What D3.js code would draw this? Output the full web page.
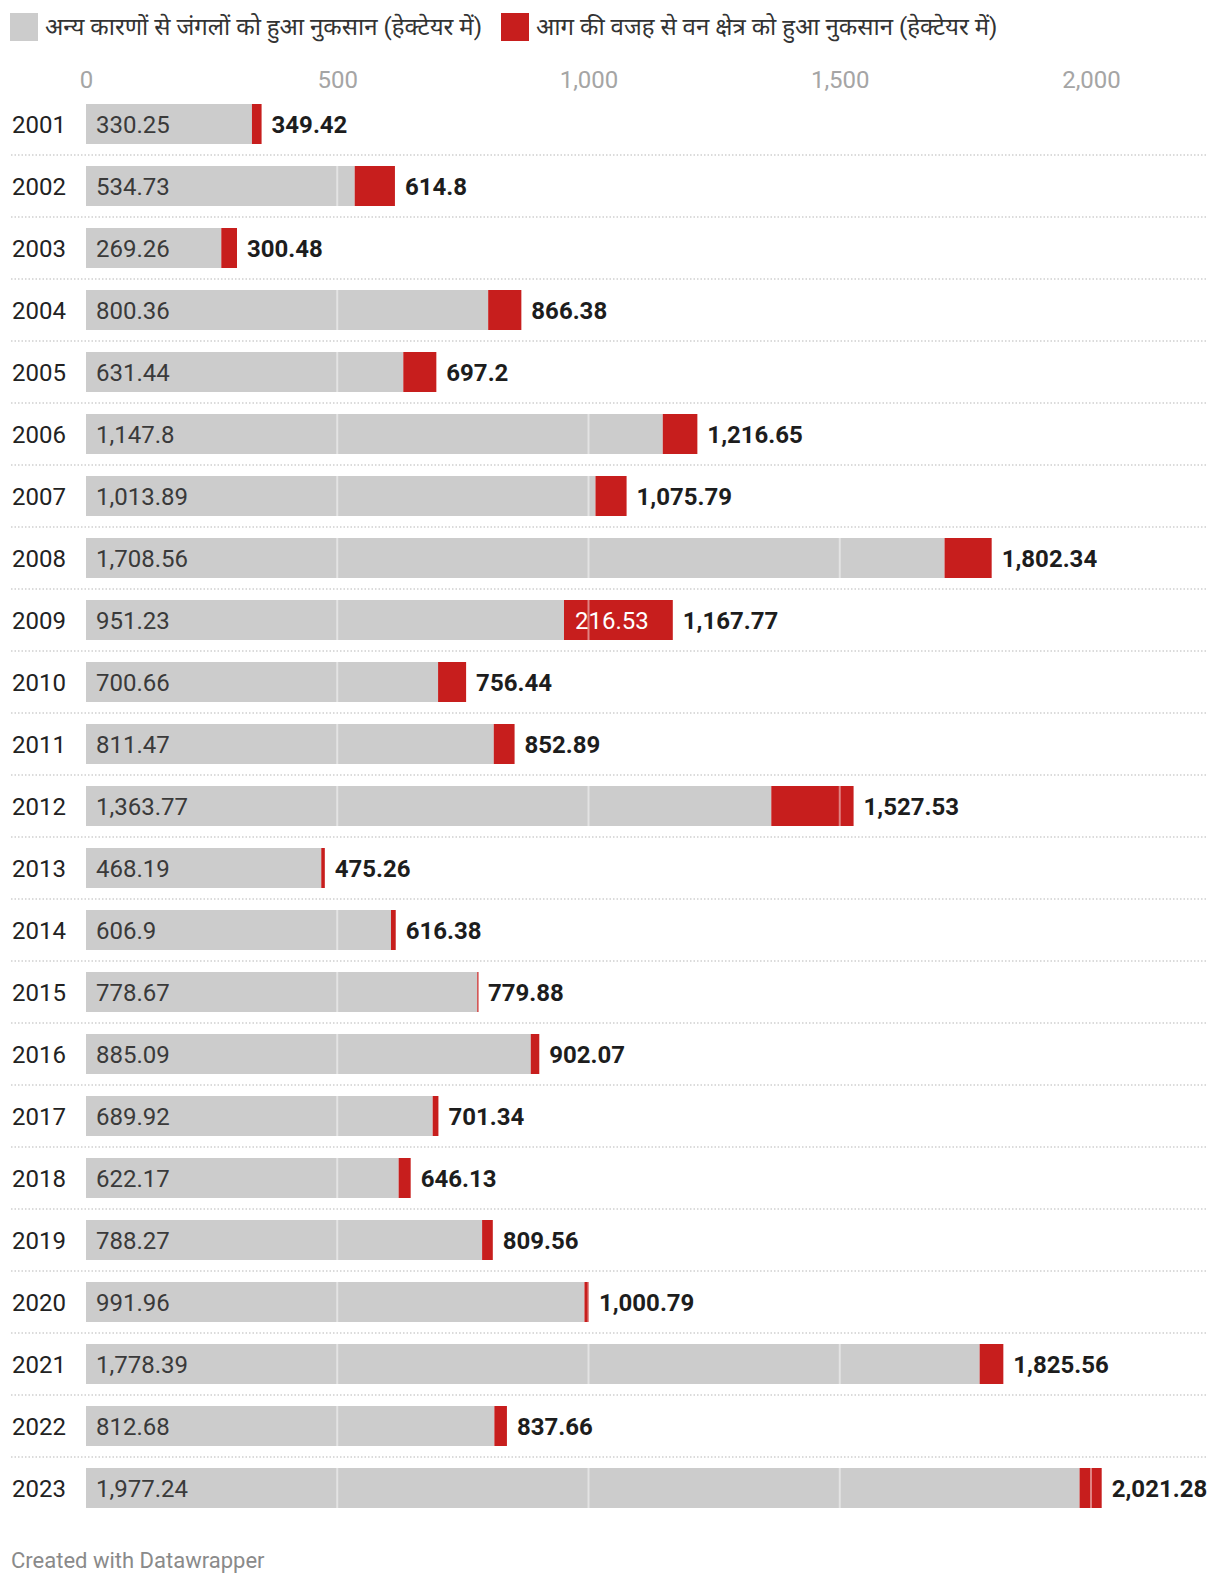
<!DOCTYPE html>
<html>
<head>
<meta charset="utf-8">
<script src="https://cdn.jsdelivr.net/npm/d3@7"></script>
<style>
  html, body { margin: 0; padding: 0; background: #fff; }
  svg { display: block; font-family: Roboto, "Noto Sans", sans-serif; }
</style>
</head>
<body>
<svg id="chart" width="1220" height="1586"></svg>
<script>
const years = ["2001","2002","2003","2004","2005","2006","2007","2008","2009","2010","2011","2012","2013","2014","2015","2016","2017","2018","2019","2020","2021","2022","2023"];
const otherLoss = [330.25,534.73,269.26,800.36,631.44,1147.8,1013.89,1708.56,951.23,700.66,811.47,1363.77,468.19,606.9,778.67,885.09,689.92,622.17,788.27,991.96,1778.39,812.68,1977.24];
const fireLoss = [19.17,80.07,31.22,66.02,65.76,68.85,61.9,93.78,216.53,55.78,41.42,163.76,7.07,9.48,1.21,16.98,11.42,23.96,21.29,8.83,47.17,24.98,44.04];
const totalLoss = [349.42,614.8,300.48,866.38,697.2,1216.65,1075.79,1802.34,1167.77,756.44,852.89,1527.53,475.26,616.38,779.88,902.07,701.34,646.13,809.56,1000.79,1825.56,837.66,2021.28];
const tickValues = [0,500,1000,1500,2000];
const seriesNames = ["अन्य कारणों से जंगलों को हुआ नुकसान (हेक्टेयर में)", "आग की वजह से वन क्षेत्र को हुआ नुकसान (हेक्टेयर में)"];
const seriesColors = ["#cccccc", "#c71e1d"];

const svg = d3.select("#chart");
const fmt = v => d3.format(",")(v);
const FS = 24;

const x = d3.scaleLinear().domain([0, 2000]).range([86, 1091]);
const y = d3.scaleBand().domain(years).range([93, 93 + 62 * years.length]).paddingInner(22/62).paddingOuter(11/62);

// Legend
const legend = svg.append("g");
const legX = [10, 501];
seriesNames.forEach((name, i) => {
  legend.append("rect").attr("x", legX[i]).attr("y", 13).attr("width", 28).attr("height", 28).attr("fill", seriesColors[i]);
  legend.append("text").attr("x", legX[i] + 35).attr("y", 35).attr("font-size", 24).attr("fill", "#333").text(name);
});

// Axis tick labels
const axis = d3.axisTop(x).tickValues(tickValues).tickFormat(fmt).tickSize(0).tickPadding(0);
const axG = svg.append("g").attr("transform", "translate(0,88)").call(axis);
axG.select(".domain").remove();
axG.selectAll("text").attr("font-size", FS).attr("fill", "#a5a5a5").attr("font-family", "Roboto");

// Dotted row dividers
svg.append("g").selectAll("line").data(years.slice(1)).join("line")
  .attr("x1", 11).attr("x2", 1208)
  .attr("y1", d => y(d) - 11).attr("y2", d => y(d) - 11)
  .attr("stroke", "#cfcfcf").attr("stroke-width", 1.5).attr("stroke-dasharray", "1.5,2");

const rows = svg.append("g").selectAll("g").data(years).join("g");
const base = d => y(d) + y.bandwidth()/2 + 8.5;

// Year labels
rows.append("text").attr("x", 12).attr("y", base)
  .attr("font-size", FS).attr("fill", "#222").text(d => d);

// Grey bars
rows.append("rect").attr("x", x(0)).attr("y", d => y(d))
  .attr("width", (d, i) => x(otherLoss[i]) - x(0)).attr("height", y.bandwidth())
  .attr("fill", seriesColors[0]);

// Red bars
rows.append("rect").attr("x", (d, i) => x(otherLoss[i])).attr("y", d => y(d))
  .attr("width", (d, i) => Math.max(1.2, x(otherLoss[i] + fireLoss[i]) - x(otherLoss[i]))).attr("height", y.bandwidth())
  .attr("fill", seriesColors[1]);

// Grid lines over bars
rows.each(function(d, i) {
  const g = d3.select(this);
  tickValues.filter(t => t > 0 && t < otherLoss[i] + fireLoss[i]).forEach(t => {
    g.append("rect").attr("x", x(t) - 1).attr("y", y(d)).attr("width", 2).attr("height", y.bandwidth())
      .attr("fill", "#fff").attr("opacity", 0.45);
  });
});

// Labels inside grey
rows.append("text").attr("x", x(0) + 10).attr("y", base)
  .attr("font-size", FS).attr("fill", "#3a3a3a").text((d, i) => fmt(otherLoss[i]));

// Labels inside red when wide enough
rows.filter((d, i) => x(otherLoss[i] + fireLoss[i]) - x(otherLoss[i]) > 90)
  .append("text").attr("x", d => x(otherLoss[years.indexOf(d)]) + 11).attr("y", base)
  .attr("font-size", FS).attr("fill", "#fff").text(d => fmt(fireLoss[years.indexOf(d)]));

// Totals
rows.append("text").attr("x", (d, i) => x(otherLoss[i] + fireLoss[i]) + 10).attr("y", base)
  .attr("font-size", FS).attr("font-weight", "bold").attr("fill", "#1d1d1d").text((d, i) => fmt(totalLoss[i]));

// Footer
svg.append("text").attr("x", 11).attr("y", 1568).attr("font-size", 22).attr("fill", "#8a8a8a").text("Created with Datawrapper");
</script>
</body>
</html>
